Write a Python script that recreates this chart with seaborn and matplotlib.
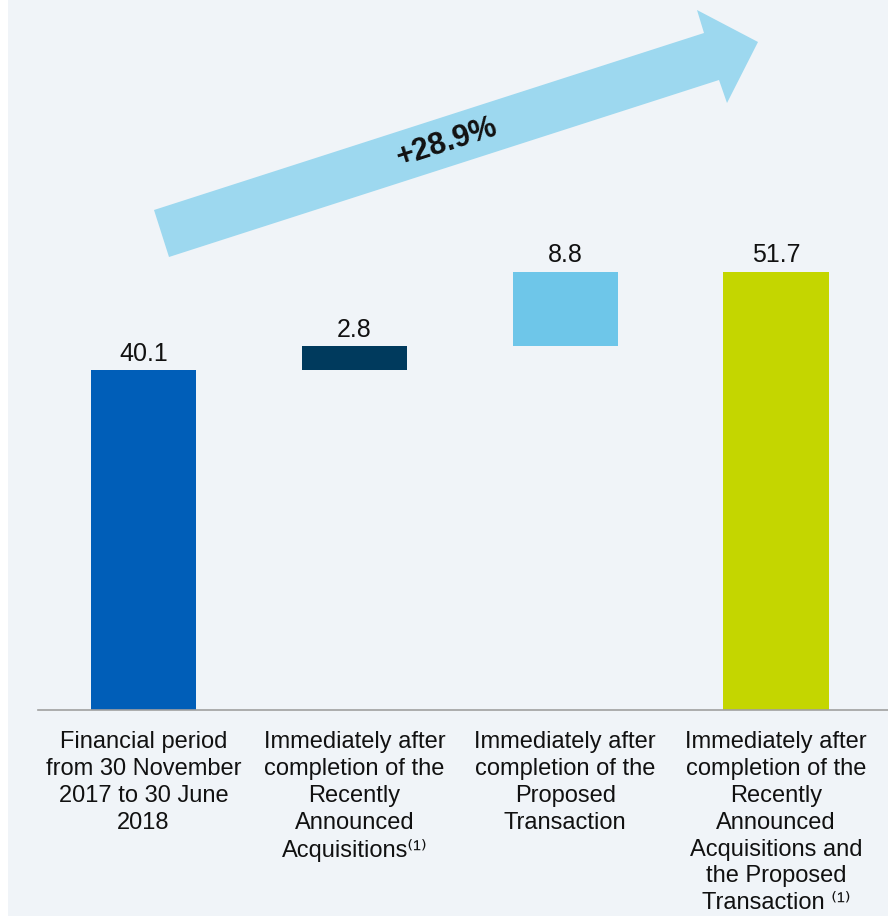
import matplotlib
matplotlib.use("Agg")
import matplotlib.pyplot as plt
from matplotlib.patches import Polygon, Rectangle
import numpy as np
import pandas as pd
import seaborn as sns

# --- data -------------------------------------------------------------
categories = [
    "Financial period\nfrom 30 November\n2017 to 30 June\n2018",
    "Immediately after\ncompletion of the\nRecently\nAnnounced\nAcquisitions\u207d\u00b9\u207e",
    "Immediately after\ncompletion of the\nProposed\nTransaction",
    "Immediately after\ncompletion of the\nRecently\nAnnounced\nAcquisitions and\nthe Proposed\nTransaction \u207d\u00b9\u207e",
]
values = [40.1, 2.8, 8.8, 51.7]          # segment heights
bases = [0.0, 40.1, 42.9, 0.0]           # where each segment starts
bar_colors = ["#005EB8", "#003A5D", "#6EC6E9", "#C4D600"]
growth_label = "+28.9%"

BG = "#F0F4F8"
ARROW = "#9DD8EF"

sns.set_theme(style="white")
plt.rcParams["font.family"] = ["Liberation Sans", "DejaVu Sans"]

W, H = 888, 916
fig = plt.figure(figsize=(W / 100, H / 100), dpi=100)
fig.patch.set_facecolor("white")
fig.add_artist(Rectangle((8 / W, 0), 1, 1, transform=fig.transFigure,
                         facecolor=BG, edgecolor="none", zorder=-10))

base_px = 710
ax = fig.add_axes([38 / W, (H - base_px) / H, 1 - 38 / W, base_px / H])
ax.set_facecolor("none")

df = pd.DataFrame({"cat": categories, "val": values})
sns.barplot(data=df, x="cat", y="val", bottom=bases, width=0.5,
            color=bar_colors[0], errorbar=None, ax=ax, saturation=1)
for patch, c in zip(ax.patches, bar_colors):
    patch.set_facecolor(c)
    patch.set_edgecolor("none")

ax.bar_label(ax.containers[0], labels=[f"{v:.1f}" for v in values],
             padding=3, fontsize=18, color="#111111")

ax.set_xlim(-0.5, 3.53)
ax.set_ylim(0, base_px / 8.48)
ax.set_xlabel("")
ax.set_ylabel("")
ax.set_yticks([])
ax.tick_params(axis="x", length=0, pad=15, labelsize=17, colors="#111111")
for lbl in ax.get_xticklabels():
    lbl.set_linespacing(1.29)
for side in ["top", "right", "left"]:
    ax.spines[side].set_visible(False)
ax.spines["bottom"].set_color("#A0A0A0")
ax.spines["bottom"].set_linewidth(1.2)

# growth arrow across the top
pts_px = [(154, 210), (704, 33), (697, 10), (758, 42), (727, 103), (719, 80), (169, 257)]
pts = [(x / W, 1 - y / H) for x, y in pts_px]
fig.add_artist(Polygon(pts, closed=True, transform=fig.transFigure,
                       facecolor=ARROW, edgecolor="none", zorder=1))
fig.text(447 / W, 1 - 142 / H, growth_label, rotation=17.8,
         rotation_mode="anchor", ha="center", va="center",
         fontsize=22, fontweight="bold", color="#111111", zorder=2)

fig.savefig("out.png", dpi=100, facecolor=fig.get_facecolor())
